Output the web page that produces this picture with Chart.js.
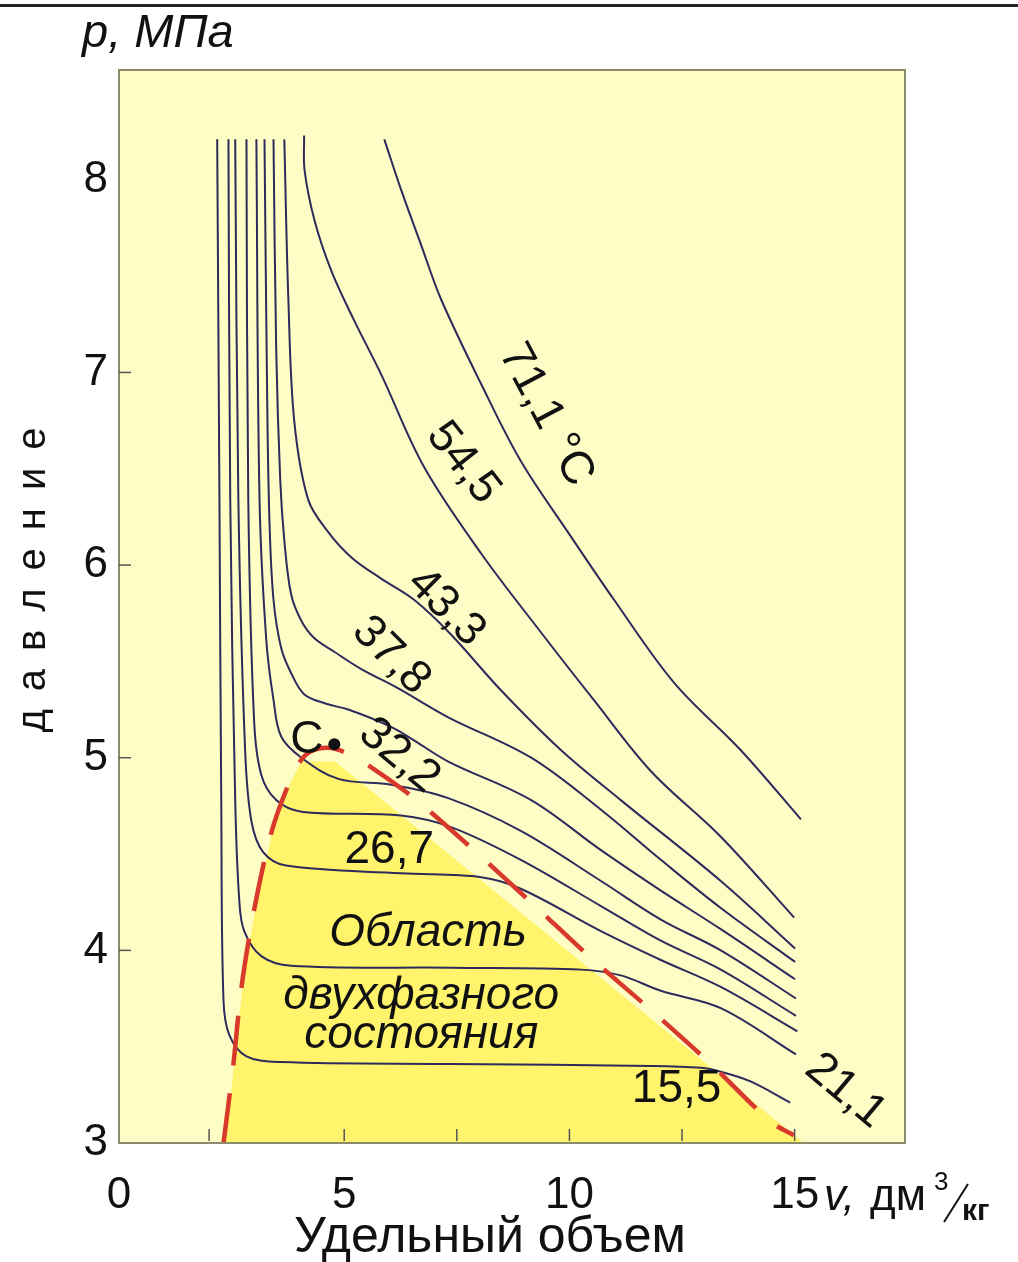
<!DOCTYPE html>
<html lang="ru">
<head>
<meta charset="UTF-8">
<title>Изотермы p–v</title>
<script src="https://cdn.jsdelivr.net/npm/chart.js"></script>
<style>
  html, body { margin: 0; padding: 0; background: #fff; }
  #wrap { width: 1018px; height: 1262px; }
</style>
</head>
<body>
<div id="wrap"><canvas id="pv" width="1018" height="1262"></canvas></div>
<script>
// изотермы, точки [v, дм3/кг ; p, МПа]
const iso155 = [[2.18,8.21],[2.23,6.34],[2.27,4.78],[2.32,3.74],[2.45,3.56],[2.83,3.45],[3.60,3.42],[7.37,3.41],[11.81,3.40],[12.92,3.39],[13.36,3.37],[14.02,3.32],[14.90,3.21]];
const iso211 = [[2.43,8.21],[2.47,6.34],[2.58,4.78],[2.67,4.26],[2.78,4.10],[3.16,3.97],[3.82,3.92],[7.37,3.91],[10.26,3.90],[11.14,3.87],[12.03,3.79],[13.36,3.70],[15.03,3.46]];
const iso267 = [[2.58,8.21],[2.65,6.34],[2.80,5.04],[2.94,4.67],[3.20,4.51],[3.71,4.44],[6.26,4.40],[8.04,4.38],[8.92,4.32],[10.70,4.10],[12.03,3.95],[13.36,3.81],[15.06,3.58]];
const iso289 = [[2.83,8.21],[2.87,6.34],[3.00,5.19],[3.16,4.91],[3.49,4.78],[4.05,4.72],[6.26,4.70],[7.37,4.64],[8.92,4.47],[10.70,4.23],[12.03,4.05],[13.36,3.90],[15.03,3.66]];
const iso305 = [[3.05,8.21],[3.12,6.34],[3.27,5.61],[3.43,5.30],[3.60,5.11],[4.05,5.00],[4.87,4.89],[6.04,4.86],[7.31,4.79],[8.92,4.62],[10.70,4.36],[12.03,4.16],[13.36,4.00],[15.03,3.75]];
const iso322 = [[3.23,8.21],[3.29,6.86],[3.34,6.23],[3.43,5.82],[3.60,5.57],[3.82,5.44],[4.11,5.33],[4.60,5.28],[5.09,5.25],[6.04,5.16],[6.55,5.09],[7.31,4.98],[9.15,4.78],[10.70,4.52],[12.03,4.31],[13.36,4.11],[15.01,3.85]];
const iso378 = [[3.43,8.21],[3.49,7.12],[3.58,6.44],[3.67,6.13],[3.82,5.85],[4.05,5.71],[4.34,5.62],[4.78,5.55],[5.38,5.46],[6.20,5.36],[7.31,5.21],[9.15,5.00],[10.70,4.73],[12.03,4.47],[13.36,4.22],[15.01,3.94]];
const iso433 = [[3.67,8.21],[3.76,7.38],[3.89,6.75],[4.20,6.34],[4.65,6.17],[5.16,6.04],[5.82,5.93],[6.55,5.82],[7.37,5.64],[8.48,5.35],[9.81,5.04],[11.14,4.78],[13.36,4.36],[15.01,4.01]];
const iso545 = [[4.11,8.23],[4.12,8.05],[4.34,7.79],[4.71,7.53],[5.22,7.27],[5.82,6.99],[6.77,6.51],[8.04,6.06],[9.37,5.65],[10.54,5.30],[11.81,4.93],[13.36,4.59],[14.99,4.17]];
const iso711 = [[5.89,8.21],[6.26,7.95],[6.71,7.66],[7.15,7.38],[8.04,6.94],[8.92,6.54],[9.97,6.17],[10.99,5.82],[12.32,5.39],[13.80,5.04],[15.14,4.68]];

// пограничная кривая (пунктир) и область двухфазного состояния
const saturation = [[2.32,3.00],[2.54,3.41],[2.72,3.81],[3.00,4.21],[3.38,4.61],[3.76,4.86],[4.05,4.99],[4.33,5.04],[4.71,5.05],[5.09,5.02],[5.60,4.95],[6.55,4.79],[7.88,4.52],[9.19,4.24],[10.48,3.96],[11.81,3.69],[13.14,3.41],[14.47,3.11],[14.98,3.04]];
const twoPhase = [[2.36,3.00],[2.56,3.41],[2.74,3.81],[3.02,4.21],[3.40,4.61],[3.78,4.86],[4.05,4.98],[4.80,4.98],[15.20,3.00]];
const critical = [[4.78,5.07]];

const xTicks = [0, 5, 10, 15];
const yTicks = [3, 4, 5, 6, 7, 8];
const xMarks = [2, 5, 7.5, 10, 12.5, 15];
const yMarks = [4, 5, 6, 7];

// подписи: текст, v, p, угол
const curveLabels = [
  ['71,1 °C', 9.48, 6.78, 62],
  ['54,5', 7.64, 6.53, 52],
  ['43,3', 7.26, 5.78, 45],
  ['37,8', 6.04, 5.53, 45],
  ['32,2', 6.22, 5.01, 40],
  ['26,7', 6.00, 4.52, 0],
  ['15,5', 12.38, 3.28, 0],
  ['21,1', 16.13, 3.27, 40],
  ['C', 4.17, 5.09, 0]
];
const regionLabels = [
  ['Область', 6.86, 4.09],
  ['двухфазного', 6.71, 3.76],
  ['состояния', 6.71, 3.56]
];

const FONT = '"Liberation Sans", Arial, sans-serif';
const toXY = a => a.map(p => ({x: p[0], y: p[1]}));

function curve(pts) {
  return {
    data: toXY(pts), borderColor: '#2d2a5c', borderWidth: 2,
    pointRadius: 0, tension: 0.35, fill: false, order: 1
  };
}

function put(ctx, txt, x, y, font, angle) {
  ctx.save();
  ctx.translate(x, y);
  ctx.rotate((angle || 0) * Math.PI / 180);
  ctx.font = font;
  ctx.textAlign = 'center';
  ctx.textBaseline = 'middle';
  ctx.fillText(txt, 0, 0);
  ctx.restore();
}

const decor = {
  id: 'decor',
  beforeDraw(chart) {
    const {ctx, chartArea: a} = chart;
    ctx.save();
    ctx.fillStyle = '#222';
    ctx.fillRect(0, 4, chart.width, 3);
    ctx.fillStyle = '#fffdc6';
    ctx.fillRect(a.left, a.top, a.right - a.left, a.bottom - a.top);
    ctx.restore();
  },
  afterDatasetsDraw(chart) {
    const {ctx, chartArea: a, scales: {x, y}} = chart;
    ctx.save();
    ctx.strokeStyle = '#8b8a6c';
    ctx.lineWidth = 2;
    ctx.strokeRect(a.left, a.top, a.right - a.left, a.bottom - a.top);
    ctx.strokeStyle = '#555';
    ctx.lineWidth = 1.5;
    xMarks.forEach(v => {
      const px = x.getPixelForValue(v);
      ctx.beginPath(); ctx.moveTo(px, a.bottom - 14); ctx.lineTo(px, a.bottom - 2); ctx.stroke();
    });
    yMarks.forEach(v => {
      const py = y.getPixelForValue(v);
      ctx.beginPath(); ctx.moveTo(a.left, py); ctx.lineTo(a.left + 12, py); ctx.stroke();
    });
    ctx.fillStyle = '#111';
    curveLabels.forEach(([t, v, p, ang]) => {
      put(ctx, t, x.getPixelForValue(v), y.getPixelForValue(p), '46px ' + FONT, ang);
    });
    regionLabels.forEach(([t, v, p]) => {
      put(ctx, t, x.getPixelForValue(v), y.getPixelForValue(p), 'italic 46px ' + FONT, 0);
    });
    ctx.restore();
  },
  afterDraw(chart) {
    const {ctx} = chart;
    ctx.save();
    ctx.fillStyle = '#111';
    ctx.strokeStyle = '#111';
    ctx.textBaseline = 'alphabetic';
    ctx.textAlign = 'left';
    ctx.font = 'italic 47px ' + FONT;
    ctx.fillText('p, МПа', 82, 47);

    // давление, по вертикали, разреженно
    ctx.translate(34, 580);
    ctx.rotate(-Math.PI / 2);
    ctx.font = '40px ' + FONT;
    ctx.textBaseline = 'middle';
    const chars = [...'давление'];
    const ws = chars.map(c => ctx.measureText(c).width);
    const gap = 18;
    let cx = -(ws.reduce((s, w) => s + w, 0) + gap * (chars.length - 1)) / 2;
    chars.forEach((c, i) => { ctx.fillText(c, cx, 0); cx += ws[i] + gap; });
    ctx.setTransform(1, 0, 0, 1, 0, 0);

    ctx.textBaseline = 'alphabetic';
    ctx.textAlign = 'center';
    ctx.font = '50px ' + FONT;
    ctx.fillText('Удельный объем', 490, 1252);

    ctx.textAlign = 'left';
    ctx.font = 'italic 44px ' + FONT;
    ctx.fillText('v,', 824, 1210);
    ctx.font = '44px ' + FONT;
    ctx.fillText('дм', 870, 1210);
    ctx.font = '26px ' + FONT;
    ctx.fillText('3', 934, 1190);
    ctx.lineWidth = 2;
    ctx.beginPath(); ctx.moveTo(944, 1222); ctx.lineTo(968, 1184); ctx.stroke();
    ctx.font = 'bold 30px ' + FONT;
    ctx.fillText('кг', 962, 1220);
    ctx.restore();
  }
};

const datasets = [
  {data: toXY(critical), showLine: false, pointRadius: 6, pointBackgroundColor: '#111', pointBorderWidth: 0, order: 0},
  {data: toXY(saturation), borderColor: '#d8392a', borderWidth: 4.5, borderDash: [50, 28], pointRadius: 0, tension: 0.3, fill: false, order: 0},
  curve(iso155), curve(iso211), curve(iso267), curve(iso289), curve(iso305),
  curve(iso322), curve(iso378), curve(iso433), curve(iso545), curve(iso711),
  {data: toXY(twoPhase), borderWidth: 0, pointRadius: 0, tension: 0, backgroundColor: '#fff46c', fill: {value: 3}, order: 2}
];

new Chart(document.getElementById('pv'), {
  type: 'line',
  data: {datasets},
  options: {
    responsive: false,
    animation: false,
    layout: {padding: {top: 70, right: 113, left: 0, bottom: 0}},
    plugins: {legend: {display: false}, tooltip: {enabled: false}},
    scales: {
      x: {
        type: 'linear', min: 0, max: 17.45,
        afterBuildTicks: s => { s.ticks = xTicks.map(v => ({value: v})); },
        afterFit: s => { s.height = 119; },
        grid: {display: false, drawTicks: false},
        border: {display: false},
        ticks: {font: {family: FONT, size: 44}, color: '#111', padding: 26}
      },
      y: {
        type: 'linear', min: 3, max: 8.57,
        afterBuildTicks: s => { s.ticks = yTicks.map(v => ({value: v})); },
        afterFit: s => { s.width = 119; },
        ticks: {font: {family: FONT, size: 44}, color: '#111', padding: 11},
        grid: {display: false, drawTicks: false},
        border: {display: false}
      }
    }
  },
  plugins: [decor]
});
</script>
</body>
</html>
